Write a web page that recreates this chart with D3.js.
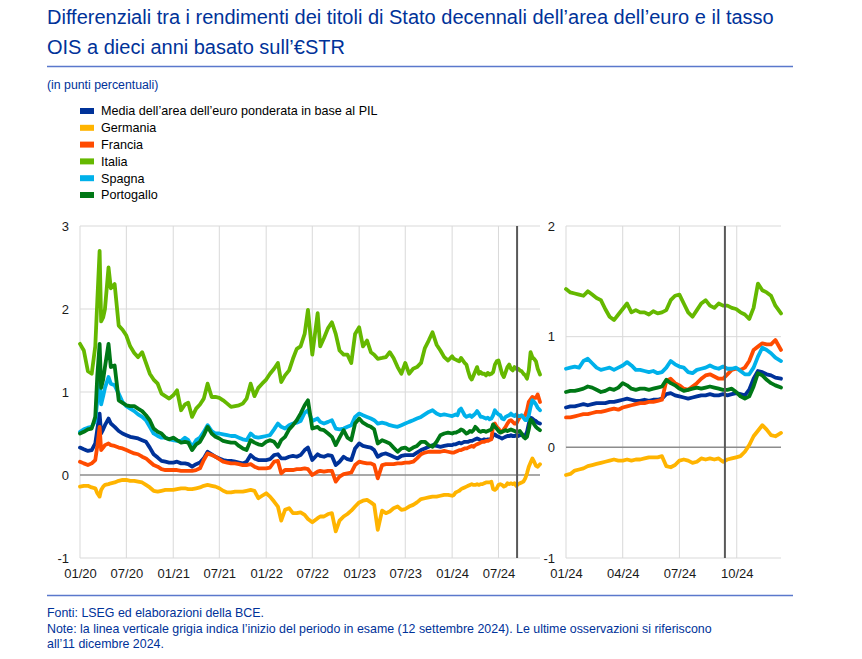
<!DOCTYPE html>
<html><head><meta charset="utf-8">
<script src="https://cdn.jsdelivr.net/npm/d3@7"></script>
<style>
body{margin:0;background:#fff}
svg{display:block}
text{font-family:"Liberation Sans",Arial,Helvetica,sans-serif}
</style>
</head><body>
<svg id="chart" width="862" height="659"></svg>
<script>
// ---------- DATA ----------
const dates = [
"2020-01-01","2020-01-16","2020-02-01","2020-02-16","2020-03-01","2020-03-09","2020-03-18","2020-03-24","2020-04-01","2020-04-08","2020-04-22","2020-05-01","2020-05-16","2020-06-01","2020-06-16","2020-07-01","2020-07-16","2020-08-01","2020-08-16","2020-09-01","2020-09-16","2020-10-01","2020-10-16","2020-11-01","2020-11-16","2020-12-01","2020-12-16",
"2021-01-01","2021-01-16","2021-02-01","2021-02-16","2021-03-01","2021-03-16","2021-04-01","2021-04-16","2021-05-01","2021-05-16","2021-06-01","2021-06-16","2021-07-01","2021-07-16","2021-08-01","2021-08-16","2021-09-01","2021-09-16","2021-10-01","2021-10-16","2021-11-01","2021-11-16","2021-12-01","2021-12-16",
"2022-01-01","2022-01-16","2022-02-01","2022-02-16","2022-03-01","2022-03-16","2022-04-01","2022-04-16","2022-05-01","2022-05-16","2022-06-01","2022-06-14","2022-07-01","2022-07-22","2022-08-01","2022-08-16","2022-09-01","2022-09-16","2022-10-01","2022-10-16","2022-11-01","2022-11-16","2022-12-01","2022-12-16",
"2023-01-01","2023-01-16","2023-02-01","2023-02-16","2023-03-01","2023-03-15","2023-04-01","2023-04-16","2023-05-01","2023-05-16","2023-06-01","2023-06-16","2023-07-01","2023-07-16","2023-08-01","2023-08-16","2023-09-01","2023-09-16","2023-10-01","2023-10-16","2023-11-01","2023-11-16","2023-12-01","2023-12-16",
"2024-01-01","2024-01-08","2024-01-15","2024-01-22","2024-01-29","2024-02-05","2024-02-12","2024-02-19","2024-02-26","2024-03-04","2024-03-11","2024-03-18","2024-03-25","2024-04-01","2024-04-08","2024-04-15","2024-04-22","2024-04-29","2024-05-06","2024-05-13","2024-05-20","2024-05-27","2024-06-03","2024-06-10","2024-06-17","2024-06-24","2024-07-01","2024-07-08","2024-07-15","2024-07-22","2024-07-29","2024-08-05","2024-08-12","2024-08-19","2024-08-26","2024-09-02","2024-09-09","2024-09-16","2024-09-23","2024-09-30","2024-10-07","2024-10-14","2024-10-21","2024-10-28","2024-11-04","2024-11-11","2024-11-18","2024-11-25","2024-12-02","2024-12-11"
];

const media = [
0.33,0.31,0.29,0.30,0.38,0.55,0.74,0.50,0.55,0.60,0.68,0.62,0.58,0.53,0.50,0.48,0.46,0.45,0.44,0.42,0.40,0.33,0.25,0.21,0.17,0.16,0.15,
0.15,0.16,0.14,0.14,0.13,0.10,0.13,0.15,0.20,0.28,0.25,0.22,0.20,0.18,0.17,0.17,0.16,0.15,0.14,0.16,0.24,0.20,0.18,0.18,
0.18,0.19,0.24,0.25,0.20,0.20,0.22,0.23,0.22,0.24,0.30,0.33,0.18,0.25,0.23,0.22,0.24,0.23,0.12,0.16,0.22,0.19,0.18,0.32,
0.38,0.35,0.34,0.33,0.30,0.22,0.25,0.26,0.24,0.22,0.20,0.23,0.24,0.24,0.24,0.27,0.30,0.32,0.34,0.36,0.35,0.34,0.35,0.36,
0.36,0.37,0.37,0.38,0.39,0.38,0.39,0.40,0.40,0.40,0.41,0.41,0.42,0.43,0.44,0.43,0.42,0.42,0.43,0.42,0.43,0.43,0.44,0.48,0.49,0.47,0.46,0.45,0.44,0.45,0.46,0.47,0.47,0.48,0.47,0.47,0.48,0.47,0.48,0.49,0.48,0.47,0.52,0.62,0.69,0.68,0.66,0.65,0.63,0.62
];

const germania = [
-0.14,-0.13,-0.13,-0.15,-0.16,-0.22,-0.26,-0.18,-0.14,-0.12,-0.11,-0.10,-0.09,-0.07,-0.06,-0.06,-0.07,-0.07,-0.08,-0.09,-0.12,-0.15,-0.19,-0.20,-0.19,-0.18,-0.18,
-0.18,-0.17,-0.16,-0.16,-0.17,-0.17,-0.16,-0.15,-0.13,-0.12,-0.13,-0.14,-0.16,-0.19,-0.21,-0.21,-0.20,-0.20,-0.20,-0.19,-0.18,-0.19,-0.28,-0.25,
-0.22,-0.26,-0.32,-0.38,-0.55,-0.42,-0.40,-0.46,-0.46,-0.45,-0.48,-0.53,-0.57,-0.52,-0.50,-0.50,-0.47,-0.46,-0.68,-0.55,-0.50,-0.47,-0.43,-0.38,
-0.33,-0.31,-0.30,-0.33,-0.36,-0.66,-0.43,-0.46,-0.44,-0.40,-0.38,-0.42,-0.41,-0.38,-0.36,-0.33,-0.29,-0.28,-0.27,-0.26,-0.26,-0.25,-0.24,-0.24,
-0.25,-0.24,-0.21,-0.20,-0.19,-0.17,-0.16,-0.15,-0.14,-0.13,-0.12,-0.11,-0.12,-0.12,-0.11,-0.12,-0.11,-0.11,-0.10,-0.09,-0.09,-0.09,-0.08,-0.17,-0.18,-0.16,-0.12,-0.11,-0.12,-0.14,-0.13,-0.10,-0.11,-0.10,-0.11,-0.10,-0.13,-0.11,-0.10,-0.09,-0.08,-0.04,0.02,0.10,0.15,0.20,0.16,0.11,0.10,0.13
];

const francia = [
0.16,0.14,0.12,0.14,0.18,0.35,0.58,0.30,0.33,0.36,0.38,0.36,0.35,0.33,0.32,0.30,0.28,0.26,0.25,0.22,0.20,0.16,0.12,0.10,0.07,0.06,0.06,
0.06,0.06,0.05,0.05,0.05,0.05,0.06,0.08,0.18,0.26,0.24,0.22,0.19,0.16,0.15,0.14,0.14,0.13,0.12,0.12,0.13,0.10,0.08,0.08,
0.08,0.09,0.16,0.17,0.02,0.06,0.06,0.06,0.07,0.07,0.08,0.07,0.00,0.04,0.05,0.04,0.05,0.05,-0.08,-0.02,0.01,0.02,0.03,0.12,
0.16,0.15,0.14,0.14,0.12,-0.04,0.12,0.13,0.13,0.13,0.14,0.14,0.15,0.15,0.16,0.20,0.25,0.27,0.28,0.28,0.28,0.28,0.29,0.28,
0.27,0.27,0.28,0.29,0.30,0.30,0.31,0.32,0.32,0.33,0.34,0.35,0.34,0.36,0.37,0.38,0.39,0.40,0.40,0.41,0.41,0.42,0.43,0.60,0.62,0.58,0.56,0.53,0.52,0.55,0.58,0.62,0.65,0.66,0.64,0.62,0.62,0.66,0.70,0.71,0.70,0.72,0.78,0.88,0.91,0.94,0.93,0.93,0.97,0.88
];

const italia = [
1.58,1.50,1.25,1.22,1.55,2.10,2.70,1.85,1.90,2.00,2.50,2.25,2.30,1.80,1.75,1.68,1.55,1.47,1.42,1.48,1.35,1.22,1.15,1.10,0.98,0.95,0.92,
0.96,1.02,0.78,0.85,0.87,0.70,0.80,0.85,0.92,1.10,0.94,0.94,0.93,0.90,0.86,0.82,0.83,0.84,0.86,0.92,1.10,0.95,1.05,1.10,
1.15,1.22,1.28,1.35,1.12,1.20,1.26,1.40,1.52,1.55,1.70,1.99,1.45,1.95,1.55,1.65,1.77,1.84,1.70,1.50,1.45,1.45,1.35,1.70,
1.78,1.55,1.62,1.48,1.45,1.40,1.41,1.42,1.48,1.41,1.30,1.22,1.35,1.22,1.28,1.30,1.35,1.53,1.62,1.72,1.57,1.50,1.42,1.38,
1.43,1.40,1.39,1.38,1.37,1.41,1.38,1.35,1.33,1.25,1.18,1.15,1.20,1.25,1.30,1.22,1.24,1.22,1.22,1.20,1.23,1.21,1.22,1.24,1.33,1.37,1.38,1.30,1.22,1.18,1.24,1.30,1.33,1.28,1.26,1.30,1.28,1.28,1.26,1.25,1.22,1.20,1.16,1.26,1.48,1.42,1.40,1.37,1.28,1.21
];

const spagna = [
0.52,0.55,0.57,0.58,0.65,0.90,1.15,0.85,0.95,1.05,1.18,1.10,1.08,0.98,0.88,0.83,0.80,0.77,0.73,0.70,0.66,0.58,0.50,0.47,0.45,0.45,0.43,
0.42,0.41,0.41,0.45,0.42,0.34,0.42,0.45,0.52,0.60,0.53,0.50,0.50,0.49,0.48,0.47,0.47,0.45,0.43,0.42,0.50,0.46,0.45,0.46,
0.47,0.48,0.55,0.62,0.58,0.56,0.60,0.62,0.63,0.65,0.75,0.78,0.65,0.68,0.64,0.62,0.64,0.66,0.56,0.55,0.56,0.58,0.60,0.70,
0.74,0.72,0.70,0.68,0.66,0.62,0.63,0.62,0.60,0.59,0.58,0.60,0.62,0.64,0.66,0.68,0.70,0.73,0.76,0.78,0.74,0.72,0.73,0.72,
0.71,0.72,0.73,0.72,0.78,0.80,0.76,0.72,0.70,0.71,0.72,0.70,0.72,0.74,0.77,0.74,0.70,0.70,0.69,0.68,0.69,0.67,0.68,0.72,0.78,0.75,0.73,0.72,0.68,0.67,0.70,0.71,0.72,0.74,0.72,0.71,0.73,0.71,0.71,0.72,0.69,0.66,0.66,0.72,0.82,0.90,0.88,0.85,0.81,0.78
];

const portogallo = [
0.50,0.52,0.55,0.56,0.70,1.20,1.58,1.05,1.15,1.30,1.58,1.30,1.32,0.90,0.87,0.84,0.83,0.83,0.80,0.77,0.72,0.66,0.56,0.52,0.50,0.45,0.43,
0.45,0.42,0.39,0.40,0.39,0.30,0.37,0.40,0.48,0.58,0.50,0.46,0.44,0.41,0.40,0.39,0.39,0.35,0.32,0.30,0.42,0.39,0.37,0.36,
0.40,0.42,0.40,0.34,0.42,0.46,0.55,0.60,0.66,0.74,0.84,0.90,0.56,0.58,0.55,0.54,0.50,0.46,0.36,0.45,0.54,0.45,0.42,0.62,
0.68,0.63,0.60,0.58,0.55,0.38,0.42,0.40,0.38,0.33,0.28,0.32,0.33,0.30,0.33,0.35,0.40,0.40,0.36,0.34,0.40,0.48,0.50,0.51,
0.50,0.51,0.51,0.52,0.53,0.55,0.54,0.52,0.50,0.51,0.53,0.52,0.54,0.58,0.56,0.53,0.52,0.53,0.53,0.52,0.53,0.54,0.55,0.61,0.58,0.56,0.53,0.51,0.52,0.53,0.54,0.53,0.54,0.55,0.54,0.53,0.52,0.52,0.53,0.50,0.46,0.44,0.46,0.55,0.67,0.65,0.61,0.58,0.56,0.54
];

const seriesNames = ["Media dell’area dell’euro ponderata in base al PIL","Germania","Francia","Italia","Spagna","Portogallo"];
const seriesColors = ["#003299","#ffb400","#ff4b00","#65b800","#00b1ea","#007816"];

const leftYTicks = [-1, 0, 1, 2, 3];
const rightYTicks = [-1, 0, 1, 2];
const leftXTicks = ["2020-01-01","2020-07-01","2021-01-01","2021-07-01","2022-01-01","2022-07-01","2023-01-01","2023-07-01","2024-01-01","2024-07-01"];
const leftXTickLabels = ["01/20","07/20","01/21","07/21","01/22","07/22","01/23","07/23","01/24","07/24"];
const rightXTicks = ["2024-01-01","2024-04-01","2024-07-01","2024-10-01"];
const rightXTickLabels = ["01/24","04/24","07/24","10/24"];
const eventDate = "2024-09-12";
const lastDate = "2024-12-11";

const titleLines = ["Differenziali tra i rendimenti dei titoli di Stato decennali dell’area dell’euro e il tasso","OIS a dieci anni basato sull’€STR"];
const subtitle = "(in punti percentuali)";
const footerLines = ["Fonti: LSEG ed elaborazioni della BCE.",
"Note: la linea verticale grigia indica l’inizio del periodo in esame (12 settembre 2024). Le ultime osservazioni si riferiscono",
"all’11 dicembre 2024."];

// ---------- DRAW ----------
const parse = d3.timeParse("%Y-%m-%d");
const allSeries = [media, germania, francia, italia, spagna, portogallo];
const series = allSeries.map((vals, i) => ({
  name: seriesNames[i], color: seriesColors[i],
  pts: dates.map((d, j) => ({date: parse(d), v: vals[j]}))
}));

const svg = d3.select("#chart");
const blue = "#003299";

// title
svg.append("g").selectAll("text").data(titleLines).join("text")
  .attr("x", 47).attr("y", (d, i) => 24 + i * 30)
  .attr("font-size", 20).attr("fill", blue).text(d => d);

svg.append("line").attr("x1", 47).attr("x2", 793).attr("y1", 66.5).attr("y2", 66.5)
  .attr("stroke", "#5a78cc").attr("stroke-width", 1.5);

svg.append("text").attr("x", 47).attr("y", 89).attr("font-size", 12.3).attr("fill", blue).text(subtitle);

// legend
const leg = svg.append("g").selectAll("g").data(series).join("g")
  .attr("transform", (d, i) => `translate(80,${111 + i * 16.8})`);
leg.append("rect").attr("x", 0).attr("y", -3).attr("width", 14).attr("height", 6).attr("fill", d => d.color);
leg.append("text").attr("x", 21).attr("y", 4.4).attr("font-size", 12.6).attr("fill", "#000").text(d => d.name);

const yTop = 226, yBot = 558;

function panel(cfg) {
  const g = svg.append("g");
  const x = d3.scaleTime().domain([parse(cfg.start), parse(lastDate)]).range([cfg.x0, cfg.x1]);
  const y = d3.scaleLinear().domain(cfg.yDomain).range([yBot, yTop]);
  const xt = cfg.xTicks.map(parse);

  // gridlines
  g.append("g").selectAll("line").data(cfg.yTicks.filter(t => t !== 0)).join("line")
    .attr("x1", cfg.x0).attr("x2", cfg.x1).attr("y1", d => y(d)).attr("y2", d => y(d))
    .attr("stroke", "#d9d9d9").attr("stroke-width", 1);
  g.append("g").selectAll("line").data(xt).join("line")
    .attr("x1", d => x(d)).attr("x2", d => x(d)).attr("y1", yTop).attr("y2", yBot)
    .attr("stroke", "#d9d9d9").attr("stroke-width", 1);

  // zero line
  g.append("line").attr("x1", cfg.x0).attr("x2", cfg.x1).attr("y1", y(0)).attr("y2", y(0))
    .attr("stroke", "#8c8c8c").attr("stroke-width", 1.5);

  // axes labels
  const ya = g.append("g").attr("transform", `translate(${cfg.x0},0)`)
    .call(d3.axisLeft(y).tickValues(cfg.yTicks).tickFormat(d => String(d)).tickSize(0).tickPadding(11));
  ya.select(".domain").remove();
  ya.selectAll("text").attr("font-size", 13).attr("fill", "#1a1a1a").style("font-family", "'Liberation Sans',Arial,sans-serif");

  const xa = g.append("g").attr("transform", `translate(0,${yBot})`)
    .call(d3.axisBottom(x).tickValues(xt).tickFormat((d, i) => cfg.xLabels[i]).tickSize(0).tickPadding(11));
  xa.select(".domain").remove();
  xa.selectAll("text").attr("font-size", 13).attr("fill", "#1a1a1a").style("font-family", "'Liberation Sans',Arial,sans-serif");

  // series
  const line = d3.line().x(d => x(d.date)).y(d => y(d.v));
  const startD = parse(cfg.start);
  g.append("g").selectAll("path").data(series).join("path")
    .attr("d", s => line(s.pts.filter(p => p.date >= startD)))
    .attr("fill", "none").attr("stroke", s => s.color).attr("stroke-width", 3.8)
    .attr("stroke-linejoin", "round").attr("stroke-linecap", "round");

  // event line
  const ex = x(parse(eventDate));
  g.append("line").attr("x1", ex).attr("x2", ex).attr("y1", yTop).attr("y2", yBot)
    .attr("stroke", "#595959").attr("stroke-width", 2);
}

panel({start: "2020-01-01", x0: 80, x1: 540, yDomain: [-1, 3], yTicks: leftYTicks, xTicks: leftXTicks, xLabels: leftXTickLabels});
panel({start: "2024-01-01", x0: 566, x1: 781, yDomain: [-1, 2], yTicks: rightYTicks, xTicks: rightXTicks, xLabels: rightXTickLabels});

// footer
svg.append("line").attr("x1", 47).attr("x2", 793).attr("y1", 595.5).attr("y2", 595.5)
  .attr("stroke", "#5a78cc").attr("stroke-width", 1.5);
svg.append("g").selectAll("text").data(footerLines).join("text")
  .attr("x", 47).attr("y", (d, i) => 617 + i * 15.5)
  .attr("font-size", 12.4).attr("fill", blue).text(d => d);
</script>
</body></html>
